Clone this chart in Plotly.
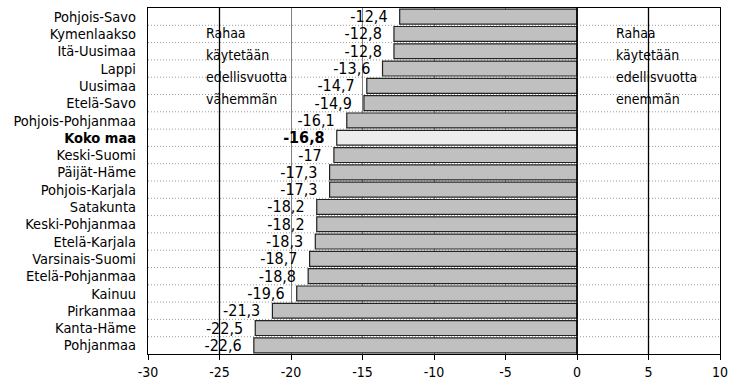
import plotly.graph_objects as go

regions = ["Pohjois-Savo", "Kymenlaakso", "Itä-Uusimaa", "Lappi", "Uusimaa", "Etelä-Savo",
           "Pohjois-Pohjanmaa", "Koko maa", "Keski-Suomi", "Päijät-Häme", "Pohjois-Karjala",
           "Satakunta", "Keski-Pohjanmaa", "Etelä-Karjala", "Varsinais-Suomi", "Etelä-Pohjanmaa",
           "Kainuu", "Pirkanmaa", "Kanta-Häme", "Pohjanmaa"]
values = [-12.4, -12.8, -12.8, -13.6, -14.7, -14.9, -16.1, -16.8, -17.0, -17.3, -17.3,
          -18.2, -18.2, -18.3, -18.7, -18.8, -19.6, -21.3, -22.5, -22.6]
highlight = "Koko maa"
x_ticks = [-30, -25, -20, -15, -10, -5, 0, 5, 10]
note_left = ["Rahaa", "käytetään", "edellisvuotta", "vähemmän"]
note_right = ["Rahaa", "käytetään", "edellisvuotta", "enemmän"]

def fmt(v):
    return ("%g" % v).replace(".", ",")

PAD = "\u00a0\u00a0"
texts = [("<b>%s</b>%s" % (fmt(v), PAD)) if r == highlight else fmt(v) + PAD
         for r, v in zip(regions, values)]
colors = ["#ececec" if r == highlight else "#c0c0c0" for r in regions]
ticktext = [("<b>%s</b>" % r) if r == highlight else r for r in regions]

FONT = "DejaVu Sans Condensed"
FS = 14
FS_LABEL = 16

fig = go.Figure()
fig.add_trace(go.Bar(
    y=regions, x=values, orientation="h",
    marker=dict(color=colors, line=dict(color="#222222", width=1.2)),
    width=0.86,
    text=texts, textposition="outside", cliponaxis=False, constraintext="none",
    textfont=dict(family=FONT, size=FS_LABEL, color="black"),
    hoverinfo="skip",
))

shapes = []
for i in range(1, len(regions)):
    shapes.append(dict(type="line", xref="paper", x0=0, x1=1, yref="y", y0=i - 0.5, y1=i - 0.5,
                       line=dict(color="#9a9a9a", width=1, dash="1px,2px"), layer="below"))
for xv in [-25, 5]:
    shapes.append(dict(type="line", xref="x", x0=xv, x1=xv, yref="paper", y0=0, y1=1,
                       line=dict(color="black", width=1.3), layer="above"))
shapes.append(dict(type="line", xref="x", x0=0, x1=0, yref="paper", y0=0, y1=1,
                   line=dict(color="black", width=1.5), layer="above"))

annotations = []
line_y = [0.928, 0.865, 0.801, 0.738]
for txt, yy in zip(note_left, line_y):
    annotations.append(dict(xref="x", yref="paper", x=-26.1, y=yy, text=txt, showarrow=False,
                            xanchor="left", yanchor="middle", align="left",
                            font=dict(family=FONT, size=FS, color="black")))
for txt, yy in zip(note_right, line_y):
    annotations.append(dict(xref="x", yref="paper", x=2.6, y=yy, text=txt, showarrow=False,
                            xanchor="left", yanchor="middle", align="left",
                            font=dict(family=FONT, size=FS, color="black")))

fig.update_layout(
    width=731, height=387,
    margin=dict(l=148, r=11, t=8, b=33, autoexpand=False),
    paper_bgcolor="white", plot_bgcolor="white",
    showlegend=False,
    font=dict(family=FONT, size=FS, color="black"),
    shapes=shapes,
    annotations=annotations,
    xaxis=dict(
        range=[-30, 10], tickvals=x_ticks, ticktext=[str(t) for t in x_ticks],
        showgrid=True, gridcolor="#808080", gridwidth=1,
        zeroline=False, automargin=False,
        showline=True, linecolor="black", linewidth=1.2, mirror=True,
        ticks="outside", ticklen=5, tickcolor="black",
        tickfont=dict(family=FONT, size=FS),
        fixedrange=True,
    ),
    yaxis=dict(
        categoryorder="array", categoryarray=regions,
        tickvals=regions, ticktext=ticktext,
        autorange="reversed", automargin=False,
        showgrid=False, zeroline=False,
        showline=True, linecolor="black", linewidth=1.2, mirror=True,
        ticks="outside", ticklen=8, tickcolor="rgba(0,0,0,0)",
        tickfont=dict(family=FONT, size=14.5),
        fixedrange=True,
    ),
)

fig.write_html("out.html", config={"displayModeBar": False},
               post_script="document.body.style.margin='0';document.body.style.overflow='hidden';")
